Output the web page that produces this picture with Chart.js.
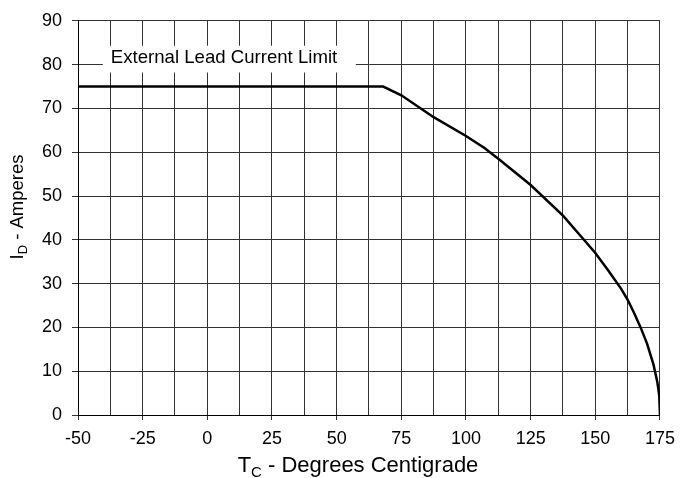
<!DOCTYPE html>
<html>
<head>
<meta charset="utf-8">
<script src="https://cdn.jsdelivr.net/npm/chart.js@4/dist/chart.umd.min.js"></script>
<style>
    html, body { margin: 0; padding: 0; background: #fff; }
    #wrap { width: 683px; height: 478px; position: relative; }
</style>
</head>
<body>
<div id="wrap"><canvas id="derating"></canvas></div>
<script>
    "use strict";

    // Current derating curve
    var caseTemp = [-50, 68, 75, 87.5, 100, 107, 112.5, 125, 137.5, 145.6, 150, 155, 160, 162.5, 165, 167.5, 170, 172.5, 174, 174.7, 175];
    var drainAmps = [75, 75, 73, 68, 63.7, 61, 58.5, 52.5, 45.5, 40, 37, 33, 28.8, 26.3, 23.3, 20, 16.3, 11.5, 7.4, 4.5, 0];

    var xTicks = [-50, -25, 0, 25, 50, 75, 100, 125, 150, 175];
    var yTicks = [0, 10, 20, 30, 40, 50, 60, 70, 80, 90];

    var limitText = "External Lead Current Limit";
    var xTitle = ["T", "C", " - Degrees Centigrade"];
    var yTitle = ["I", "D", " - Amperes"];

    var FONT = "'Liberation Sans', Arial, sans-serif";

    // Text with a subscript: [main, sub, rest]
    function drawSubText(ctx, parts, x, y, size) {
        var sub = Math.round(size * 0.68);
        ctx.font = size + "px " + FONT;
        var w0 = ctx.measureText(parts[0]).width;
        var w2 = ctx.measureText(parts[2]).width;
        ctx.font = sub + "px " + FONT;
        var w1 = ctx.measureText(parts[1]).width;
        var start = x - (w0 + w1 + w2) / 2;
        ctx.textAlign = "left";
        ctx.textBaseline = "alphabetic";
        ctx.font = size + "px " + FONT;
        ctx.fillText(parts[0], start, y);
        ctx.font = sub + "px " + FONT;
        ctx.fillText(parts[1], start + w0, y + size * 0.22);
        ctx.font = size + "px " + FONT;
        ctx.fillText(parts[2], start + w0 + w1, y);
    }

    var extras = {
        id: "extras",
        beforeDatasetsDraw: function(chart) {
            var ctx = chart.ctx, xs = chart.scales.x, ys = chart.scales.y;
            ctx.save();
            // white box sitting on the 80 A grid line
            var bx0 = xs.getPixelForValue(-40.4), bx1 = xs.getPixelForValue(57.4);
            var by0 = ys.getPixelForValue(84.3), by1 = ys.getPixelForValue(78.2);
            ctx.fillStyle = "#fff";
            ctx.fillRect(bx0, by0, bx1 - bx0, by1 - by0);
            ctx.fillStyle = "#000";
            ctx.font = "18.6px " + FONT;
            ctx.textAlign = "left";
            ctx.textBaseline = "middle";
            ctx.fillText(limitText, xs.getPixelForValue(-37.3), ys.getPixelForValue(81.5));
            ctx.restore();
        },
        afterDraw: function(chart) {
            var ctx = chart.ctx;
            ctx.save();
            ctx.fillStyle = "#000";
            drawSubText(ctx, xTitle, 358, 472, 22);
            ctx.translate(23, 207);
            ctx.rotate(-Math.PI / 2);
            drawSubText(ctx, yTitle, 0, 0, 18.5);
            ctx.restore();
        }
    };

    var points = caseTemp.map(function(t, i) { return { x: t, y: drainAmps[i] }; });

    var ctx = document.getElementById("derating").getContext("2d");
    var myChart = new Chart(ctx, {
        type: "scatter",
        data: {
            datasets: [{
                data: points,
                showLine: true,
                borderColor: "#000",
                borderWidth: 2.5,
                pointRadius: 0,
                tension: 0
            }]
        },
        options: {
            responsive: true,
            maintainAspectRatio: false,
            animation: false,
            layout: { padding: { top: 18, right: 19, left: 0, bottom: 0 } },
            plugins: {
                legend: { display: false },
                tooltip: { enabled: false }
            },
            scales: {
                x: {
                    type: "linear",
                    min: -50,
                    max: 175,
                    afterFit: function(scale) { scale.height = 63; },
                    afterBuildTicks: function(scale) {
                        var t = [];
                        for (var v = -50; v <= 175; v += 12.5) t.push({ value: v });
                        scale.ticks = t;
                    },
                    ticks: {
                        autoSkip: false,
                        maxRotation: 0,
                        padding: 8,
                        color: "#000",
                        font: { family: FONT, size: 18 },
                        callback: function(v) { return xTicks.indexOf(v) >= 0 ? String(v) : ""; }
                    },
                    grid: {
                        color: "#333",
                        lineWidth: 1,
                        tickLength: 5,
                        tickColor: function(c) {
                            return c.tick && xTicks.indexOf(c.tick.value) >= 0 ? "#333" : "rgba(0,0,0,0)";
                        }
                    },
                    border: { color: "#000", width: 1 }
                },
                y: {
                    min: 0,
                    max: 90,
                    afterFit: function(scale) { scale.width = 78; },
                    afterBuildTicks: function(scale) {
                        scale.ticks = yTicks.map(function(v) { return { value: v }; });
                    },
                    ticks: {
                        padding: 10,
                        color: "#000",
                        font: { family: FONT, size: 18 }
                    },
                    grid: { color: "#333", lineWidth: 1, tickLength: 6, tickColor: "#333" },
                    border: { color: "#000", width: 1 }
                }
            }
        },
        plugins: [extras]
    });
</script>
</body>
</html>
